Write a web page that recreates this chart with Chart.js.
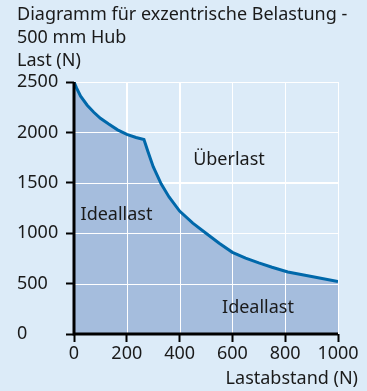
<!DOCTYPE html>
<html>
<head>
<meta charset="utf-8">
<script src="https://cdn.jsdelivr.net/npm/chart.js@4"></script>
<style>
  html, body { margin: 0; padding: 0; background: #dcebf8; }
  #wrap { width: 367px; height: 391px; position: relative; }
</style>
</head>
<body>
<div id="wrap"><canvas id="hubChart"></canvas></div>
<script>
// Belastungskurve 500 mm Hub
const lastabstand = [0, 10, 25, 50, 75, 100, 130, 165, 200, 235, 265, 280, 300, 330, 360, 400, 450, 500, 550, 600, 650, 700, 750, 810, 900, 1000];
const last = [2500, 2440, 2360, 2270, 2200, 2140, 2085, 2025, 1980, 1950, 1930, 1810, 1660, 1490, 1360, 1220, 1100, 1000, 900, 810, 752, 705, 662, 615, 570, 520];

const xTicks = [0, 200, 400, 600, 800, 1000];
const yTicks = [0, 500, 1000, 1500, 2000, 2500];

const titleLines = ['Diagramm für exzentrische Belastung -', '500 mm Hub'];
const yTitle = 'Last (N)';
const xTitle = 'Lastabstand (N)';

// Beschriftungen in der Fläche: [Text, x, y]
const areaLabels = [
  ['Überlast', 587, 1677],
  ['Ideallast', 161, 1131],
  ['Ideallast', 697, 208]
];

const FONT = '"Noto Sans", sans-serif';
const TEXT = '#1a1a1a';

const points = lastabstand.map((x, i) => ({ x: x, y: last[i] }));

const overlay = {
  id: 'overlay',
  afterDatasetDraw(chart, args) {
    // Gitter über der Fläche, aber unter der Kurve
    if (args.index !== 1) return;
    const ctx = chart.ctx;
    const a = chart.chartArea;
    const xs = chart.scales.x, ys = chart.scales.y;
    ctx.save();
    ctx.strokeStyle = '#ffffff';
    ctx.lineWidth = 1;
    xTicks.forEach(v => {
      if (v === 0) return;
      const px = Math.round(xs.getPixelForValue(v)) + 0.5;
      ctx.beginPath(); ctx.moveTo(px, a.top); ctx.lineTo(px, a.bottom); ctx.stroke();
    });
    yTicks.forEach(v => {
      if (v === 0) return;
      const py = Math.round(ys.getPixelForValue(v)) + 0.5;
      ctx.beginPath(); ctx.moveTo(a.left, py); ctx.lineTo(a.right, py); ctx.stroke();
    });
    ctx.restore();
  },
  afterDatasetsDraw(chart) {
    const ctx = chart.ctx;
    const a = chart.chartArea;
    const xs = chart.scales.x, ys = chart.scales.y;
    ctx.save();
    // Achsen
    ctx.strokeStyle = '#000';
    ctx.lineWidth = 3;
    ctx.beginPath();
    ctx.moveTo(a.left, a.top);
    ctx.lineTo(a.left, a.bottom);
    ctx.lineTo(a.right, a.bottom);
    ctx.stroke();

    ctx.fillStyle = TEXT;
    ctx.font = '18px ' + FONT;
    ctx.textBaseline = 'alphabetic';
    ctx.textAlign = 'left';
    ctx.fillText(titleLines[0], 17, 20);
    ctx.fillText(titleLines[1], 17, 43);
    ctx.fillText(yTitle, 17, 66);
    ctx.textAlign = 'right';
    ctx.fillText(xTitle, 358, 384);

    ctx.textAlign = 'center';
    areaLabels.forEach(l => {
      ctx.fillText(l[0], xs.getPixelForValue(l[1]), ys.getPixelForValue(l[2]));
    });
    ctx.restore();
  }
};

new Chart(document.getElementById('hubChart'), {
  type: 'line',
  data: {
    datasets: [
      {
        data: points,
        borderColor: '#0068aa',
        borderWidth: 3,
        pointRadius: 0,
        tension: 0,
        fill: false
      },
      {
        data: points,
        borderWidth: 0,
        pointRadius: 0,
        tension: 0,
        backgroundColor: '#a5bddd',
        fill: 'origin'
      }
    ]
  },
  options: {
    responsive: true,
    maintainAspectRatio: false,
    animation: false,
    layout: { padding: { left: 17, right: 29, top: 82, bottom: 0 } },
    plugins: { legend: { display: false }, tooltip: { enabled: false } },
    scales: {
      x: {
        type: 'linear',
        min: 0, max: 1000,
        afterFit(s) { s.height = 57; },
        afterBuildTicks(s) { s.ticks = xTicks.map(v => ({ value: v })); },
        border: { display: false },
        grid: { color: '#ffffff', tickColor: '#000', tickLength: 8, lineWidth: 1, tickWidth: 2 },
        ticks: { color: TEXT, font: { family: FONT, size: 18 }, padding: 1, maxRotation: 0, callback: v => String(v) }
      },
      y: {
        min: 0, max: 2500,
        afterFit(s) { s.width = 57; },
        afterBuildTicks(s) { s.ticks = yTicks.map(v => ({ value: v })); },
        border: { display: false },
        grid: { color: '#ffffff', tickColor: '#000', tickLength: 8, lineWidth: 1, tickWidth: 2 },
        ticks: { color: TEXT, font: { family: FONT, size: 18 }, crossAlign: 'far', padding: 4, callback: v => String(v) }
      }
    }
  },
  plugins: [overlay]
});
</script>
</body>
</html>
